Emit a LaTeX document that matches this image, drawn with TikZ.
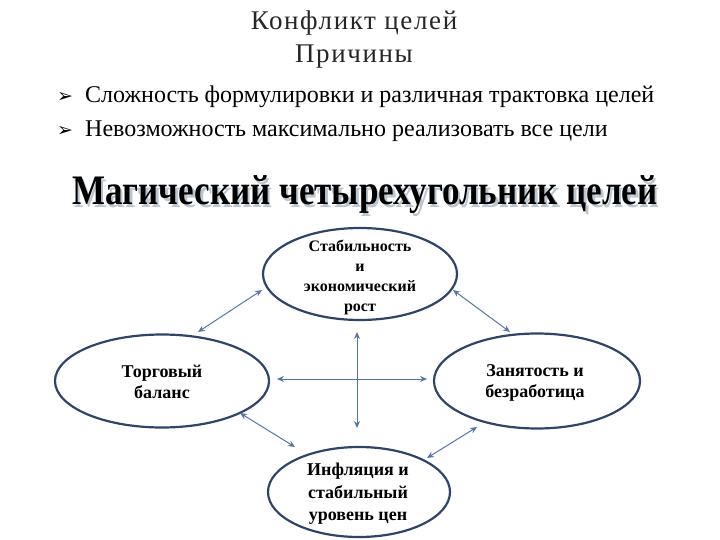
\documentclass[tikz,border=0pt]{standalone}
\usepackage{fontspec}
\setmainfont{Liberation Serif}
\newfontfamily\dv{DejaVu Sans}
\newfontfamily\titlefont[LetterSpace=6]{Liberation Serif}
\usetikzlibrary{shapes.geometric,arrows.meta}
\definecolor{ringcol}{HTML}{2E4468}
\definecolor{arrcol}{HTML}{5575A8}
\definecolor{shadowcol}{HTML}{BCC6D0}
\tikzset{
  goal/.style={ellipse, draw=ringcol, line width=2.2pt, inner sep=0pt},
  goaltext/.style={align=center, font=\bfseries\fontsize{18}{21}\selectfont, inner sep=0pt},
  link/.style={draw=arrcol, line width=1pt, {Stealth[length=7pt,width=6pt]}-{Stealth[length=7pt,width=6pt]}},
  bullettext/.style={anchor=west, inner sep=0pt, font=\fontsize{24}{28}\selectfont},
  bulletmark/.style={inner sep=0pt, font=\dv\fontsize{19}{20}\selectfont},
  headline/.style={font=\bfseries\fontsize{35}{38}\selectfont, yscale=1.2, transform shape, inner sep=0pt},
}
\begin{document}
\begin{tikzpicture}[x=1pt,y=-1pt]
\useasboundingbox (0,0) rectangle (720,540);
\clip (0,0) rectangle (720,540);
% titles
\node[font=\titlefont\fontsize{27}{30}\selectfont, text=black!85] (t1) at (354,23) {Конфликт целей};
\node[font=\titlefont\fontsize{27}{30}\selectfont, text=black!85] (t2) at (354,57) {Причины};
% bullets
\node[bulletmark] (b1) at (65,97) {➢};
\node[bullettext] (l1) at (85,97) {Сложность формулировки и различная трактовка целей};
\node[bulletmark] (b2) at (65,131) {➢};
\node[bullettext] (l2) at (85,131) {Невозможность максимально реализовать все цели};
% heading with shadow
\node[headline, text=shadowcol] (hs) at (367.5,197.5) {Магический четырехугольник целей};
\node[headline, text=black] (h) at (365,195) {Магический четырехугольник целей};
% ellipses
\node[goal, minimum width=194pt, minimum height=92pt] (top) at (360,274) {};
\node[goaltext, font=\bfseries\fontsize{16}{20}\selectfont] (toptx) at (360,277) {Стабильность\\и\\экономический\\рост};
\node[goal, minimum width=214pt, minimum height=93pt] (left) at (162,381) {};
\node[goaltext] (lefttx) at (162,382) {Торговый\\баланс};
\node[goal, minimum width=206pt, minimum height=95pt] (right) at (537,381) {};
\node[goaltext] (righttx) at (535,383) {Занятость и\\безработица};
\node[goal, minimum width=182pt, minimum height=90pt] (bot) at (359,492) {};
\node[goaltext, font=\bfseries\fontsize{18}{22.5}\selectfont] (bottx) at (358,494) {Инфляция и\\стабильный\\уровень цен};
% arrow end points
\coordinate (a1) at (262,290); \coordinate (a2) at (198,332);
\coordinate (b1e) at (453,290); \coordinate (b2e) at (510,332);
\coordinate (c1) at (277,379); \coordinate (c2) at (427,379);
\coordinate (d1) at (357,332); \coordinate (d2) at (357,428);
\coordinate (e1) at (240,413); \coordinate (e2) at (295,447);
\coordinate (f1) at (477,427); \coordinate (f2) at (427,458);
\draw[link] (a1) -- (a2);
\draw[link] (b1e) -- (b2e);
\draw[link] (c1) -- (c2);
\draw[link] (d1) -- (d2);
\draw[link] (e1) -- (e2);
\draw[link] (f1) -- (f2);
\end{tikzpicture}
\end{document}
